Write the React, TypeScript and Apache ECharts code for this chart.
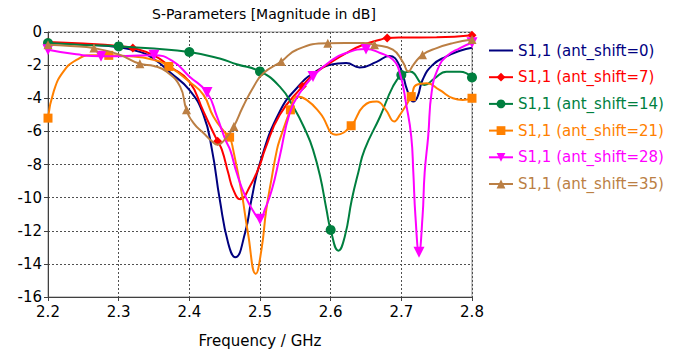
import React, { useEffect, useRef } from 'react';
import * as echarts from 'echarts';

const seriesNames = [
  'S1,1 (ant_shift=0)',
  'S1,1 (ant_shift=7)',
  'S1,1 (ant_shift=14)',
  'S1,1 (ant_shift=21)',
  'S1,1 (ant_shift=28)',
  'S1,1 (ant_shift=35)',
];
const seriesColors = ['#00007f', '#ff0000', '#007f3f', '#ff8000', '#ff00ff', '#bb7f44'];
const xTicks = [2.2, 2.3, 2.4, 2.5, 2.6, 2.7, 2.8];
const yTicks = [-16, -14, -12, -10, -8, -6, -4, -2, 0];

const s0: [number, number][] = [
  [2.2, -0.65], [2.25, -0.75], [2.3, -0.92], [2.33, -1.2], [2.349, -1.6], [2.373, -2.45], [2.4, -3.5],
  [2.42, -5.0], [2.432, -7.1], [2.443, -10.1], [2.455, -12.75], [2.465, -13.6], [2.479, -12.1],
  [2.488, -10.1], [2.5, -7.9], [2.528, -4.8], [2.556, -3.2], [2.575, -2.5], [2.599, -1.98],
  [2.622, -1.87], [2.641, -2.14], [2.665, -1.8], [2.683, -1.45], [2.697, -2.0], [2.709, -3.6],
  [2.717, -4.2], [2.723, -3.9], [2.73, -2.9], [2.744, -2.0], [2.764, -1.47], [2.783, -1.13], [2.8, -0.95],
];
const s0Markers: number[] = [];

const s7: [number, number][] = [
  [2.2, -0.6], [2.25, -0.7], [2.3, -0.85], [2.32, -0.97], [2.349, -1.4], [2.373, -2.1], [2.4, -3.0],
  [2.42, -4.8], [2.432, -5.9], [2.44, -6.6], [2.446, -7.1], [2.455, -8.5], [2.462, -9.5], [2.472, -10.1],
  [2.486, -9.3], [2.5, -8.0], [2.507, -7.1], [2.528, -5.0], [2.56, -3.28], [2.575, -2.58], [2.599, -1.87],
  [2.622, -1.27], [2.646, -0.77], [2.67, -0.47], [2.68, -0.36], [2.7, -0.33], [2.75, -0.32], [2.8, -0.2],
];
const s7Markers = [2.2, 2.32, 2.44, 2.56, 2.68, 2.8];

const s14: [number, number][] = [
  [2.2, -0.67], [2.25, -0.78], [2.3, -0.87], [2.35, -1.0], [2.4, -1.21], [2.443, -1.6], [2.467, -1.95],
  [2.5, -2.38], [2.528, -3.3], [2.547, -4.5], [2.566, -6.1], [2.575, -7.1], [2.585, -8.7], [2.594, -10.7],
  [2.6, -11.95], [2.611, -13.2], [2.62, -12.35], [2.63, -10.1], [2.639, -8.5], [2.648, -7.1], [2.67, -5.1],
  [2.688, -3.3], [2.7, -2.6], [2.712, -2.38], [2.733, -3.2], [2.747, -2.8], [2.764, -2.4], [2.783, -2.4], [2.8, -2.74],
];
const s14Markers = [2.2, 2.3, 2.4, 2.5, 2.6, 2.7, 2.8];

const s21: [number, number][] = [
  [2.2, -5.2], [2.208, -3.6], [2.222, -2.38], [2.241, -1.67], [2.26, -1.41], [2.286, -1.41], [2.31, -1.45],
  [2.349, -1.67], [2.371, -2.08], [2.4, -3.0], [2.42, -3.8], [2.434, -5.1], [2.451, -6.1], [2.457, -6.35],
  [2.462, -7.1], [2.474, -9.7], [2.483, -12.15], [2.494, -14.6], [2.502, -13.15], [2.509, -10.7],
  [2.517, -8.7], [2.524, -7.1], [2.528, -6.5], [2.543, -4.7], [2.552, -3.9], [2.566, -4.1], [2.585, -4.9],
  [2.608, -6.2], [2.629, -5.66], [2.646, -4.5], [2.665, -4.2], [2.678, -4.7], [2.69, -5.4], [2.698, -5.0],
  [2.714, -3.9], [2.721, -3.2], [2.736, -3.1], [2.754, -3.5], [2.773, -4.0], [2.787, -4.1], [2.8, -4.0],
];
const s21Markers = [2.2, 2.286, 2.371, 2.457, 2.543, 2.629, 2.714, 2.8];

const s28: [number, number][] = [
  [2.2, -1.07], [2.24, -1.35], [2.275, -1.47], [2.31, -1.45], [2.35, -1.4], [2.377, -1.78], [2.4, -2.68],
  [2.425, -3.65], [2.439, -5.1], [2.451, -6.5], [2.458, -7.15], [2.467, -8.5], [2.479, -9.9], [2.491, -10.85],
  [2.5, -11.3], [2.507, -10.7], [2.517, -9.5], [2.528, -7.5], [2.542, -4.9], [2.556, -3.7], [2.575, -2.68],
  [2.599, -1.78], [2.622, -1.27], [2.65, -1.03], [2.67, -1.27], [2.688, -1.67], [2.698, -2.5], [2.707, -4.4],
  [2.714, -6.3], [2.717, -8.5], [2.72, -11.15], [2.725, -13.3], [2.73, -11.15], [2.733, -8.5], [2.738, -6.3],
  [2.743, -3.6], [2.752, -2.2], [2.764, -1.47], [2.783, -0.97], [2.8, -0.65],
];
const s28Markers = [2.2, 2.275, 2.35, 2.425, 2.5, 2.575, 2.65, 2.725, 2.8];

const s35: [number, number][] = [
  [2.2, -0.77], [2.232, -0.85], [2.265, -0.97], [2.3, -1.35], [2.33, -1.92], [2.35, -2.05], [2.368, -2.4],
  [2.387, -3.3], [2.396, -4.7], [2.406, -5.5], [2.42, -6.1], [2.432, -6.6], [2.44, -6.8], [2.452, -6.4],
  [2.463, -5.7], [2.476, -4.5], [2.491, -3.3], [2.505, -2.48], [2.53, -1.78], [2.552, -1.07], [2.596, -0.68],
  [2.646, -0.67], [2.662, -0.77], [2.688, -1.07], [2.702, -1.8], [2.71, -2.38], [2.717, -1.98], [2.73, -1.37],
  [2.75, -0.97], [2.773, -0.67], [2.8, -0.45],
];
const s35Markers = [2.2, 2.265, 2.33, 2.396, 2.463, 2.53, 2.596, 2.662, 2.73, 2.8];

const FONT = 'DejaVu Sans';

export default function App() {
  const ref = useRef<HTMLDivElement>(null);
  useEffect(() => {
    const chart = echarts.init(ref.current!, null, { renderer: 'svg' });
    const defs = [
      { data: s0, markers: s0Markers, symbol: 'none', size: 0, rotate: 0 },
      { data: s7, markers: s7Markers, symbol: 'diamond', size: 9, rotate: 0 },
      { data: s14, markers: s14Markers, symbol: 'circle', size: 10, rotate: 0 },
      { data: s21, markers: s21Markers, symbol: 'rect', size: 9, rotate: 0 },
      { data: s28, markers: s28Markers, symbol: 'triangle', size: 11, rotate: 180 },
      { data: s35, markers: s35Markers, symbol: 'triangle', size: 9, rotate: 0 },
    ];
    const series = defs.map((d, i) => ({
      name: seriesNames[i],
      type: 'line',
      data: d.data,
      smooth: 0.5,
      symbol: d.symbol,
      symbolRotate: d.rotate,
      showSymbol: d.symbol !== 'none',
      showAllSymbol: true,
      symbolSize: (v: number[]) => (d.markers.some((m) => Math.abs(m - v[0]) < 1e-9) ? d.size : 0),
      lineStyle: { color: seriesColors[i], width: 2 },
      itemStyle: { color: seriesColors[i] },
      emphasis: { disabled: true },
      z: 2 + i,
    }));
    chart.setOption({
      animation: false,
      title: {
        text: 'S-Parameters [Magnitude in dB]',
        left: 259,
        top: 2,
        textAlign: 'center',
        textStyle: { fontFamily: FONT, fontSize: 14, fontWeight: 'normal', color: '#000' },
      },
      grid: {
        left: 48, top: 32, width: 424, height: 265,
        show: true, borderColor: '#909090', borderWidth: 1,
      },
      legend: {
        orient: 'vertical',
        left: 483,
        top: 38,
        itemWidth: 24,
        itemHeight: 11,
        itemGap: 11.7,
        data: seriesNames.map((n, i) => ({
          name: n,
          textStyle: { color: seriesColors[i] },
          ...(i === 0 ? { itemStyle: { opacity: 0 } } : {}),
        })),
        textStyle: { fontFamily: FONT, fontSize: 15, lineHeight: 15, padding: [0, 0, 0, 0] },
      },
      xAxis: {
        type: 'value',
        min: xTicks[0],
        max: xTicks[xTicks.length - 1],
        interval: 0.1,
        name: 'Frequency / GHz',
        nameLocation: 'middle',
        nameGap: 36,
        nameTextStyle: { fontFamily: FONT, fontSize: 15, color: '#000' },
        axisLine: { onZero: false, lineStyle: { color: '#404040', width: 1 } },
        axisTick: { length: 4, lineStyle: { color: '#404040' } },
        axisLabel: { fontFamily: FONT, fontSize: 15, color: '#000', margin: 7, formatter: (v: number) => v.toFixed(1) },
        splitLine: { show: true, lineStyle: { color: '#505050', type: [2, 2], width: 1 } },
      },
      yAxis: {
        type: 'value',
        min: yTicks[0],
        max: yTicks[yTicks.length - 1],
        interval: 2,
        axisLine: { show: true, lineStyle: { color: '#404040', width: 1 } },
        axisTick: { show: true, length: 4, lineStyle: { color: '#404040' } },
        axisLabel: { fontFamily: FONT, fontSize: 15, color: '#000', margin: 6 },
        splitLine: { show: true, lineStyle: { color: '#505050', type: [2, 2], width: 1 } },
      },
      series,
    });
    return () => chart.dispose();
  }, []);
  return <div ref={ref} style={{ position: 'absolute', left: 0, top: 0, width: 691, height: 353 }} />;
}
